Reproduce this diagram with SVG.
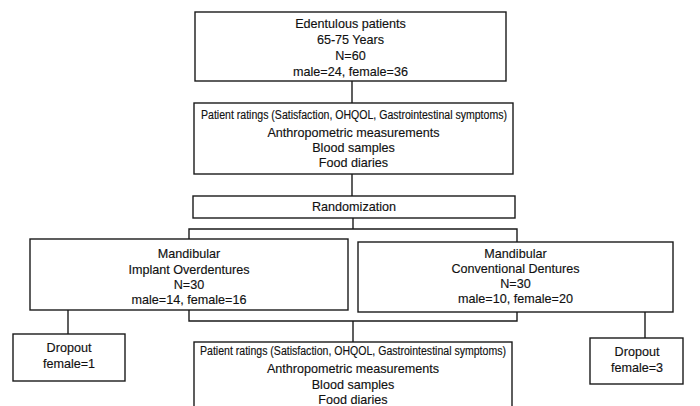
<svg xmlns="http://www.w3.org/2000/svg" width="700" height="406" viewBox="0 0 700 406">
<style>
rect{fill:#fff;stroke:#1a1a1a;stroke-width:1.4}
line,polyline{stroke:#1a1a1a;stroke-width:1.4;fill:none}
text{font-family:"Liberation Sans",Arial,sans-serif;font-size:12.6px;fill:#111;text-anchor:middle;stroke:#111;stroke-width:0.15}
.n{font-family:"Liberation Sans Narrow","Liberation Sans",sans-serif;font-size:12px}
</style>
<rect x="0" y="0" width="700" height="406" style="fill:#fff;stroke:none"/>
<g id="connectors">
<line x1="352" y1="81" x2="352" y2="103"/>
<line x1="352" y1="174" x2="352" y2="196"/>
<line x1="353" y1="218" x2="353" y2="229"/>
<polyline points="189,239 189,229 517,229 517,242"/>
<polyline points="189,310 189,321 517,321 517,312"/>
<line x1="353" y1="321" x2="353" y2="342"/>
<line x1="68" y1="310" x2="68" y2="334"/>
<line x1="645" y1="312" x2="645" y2="338"/>
</g>
<g id="n1">
<rect x="195" y="12" width="311" height="69"/>
<text x="350.5" y="28">Edentulous patients</text>
<text x="350.5" y="44">65-75 Years</text>
<text x="350.5" y="60">N=60</text>
<text x="350.5" y="76">male=24, female=36</text>
</g>
<g id="n2">
<rect x="194" y="103" width="319" height="71"/>
<text class="n" x="354" y="119" textLength="306" lengthAdjust="spacingAndGlyphs">Patient ratings (Satisfaction, OHQOL, Gastrointestinal symptoms)</text>
<text x="353.5" y="137">Anthropometric measurements</text>
<text x="353.5" y="152">Blood samples</text>
<text x="353.5" y="167">Food diaries</text>
</g>
<g id="n3">
<rect x="193" y="196" width="322" height="22"/>
<text x="354" y="211">Randomization</text>
</g>
<g id="n4">
<rect x="30" y="239" width="318" height="71"/>
<text x="189" y="258">Mandibular</text>
<text x="189" y="274">Implant Overdentures</text>
<text x="189" y="289">N=30</text>
<text x="189" y="304">male=14, female=16</text>
</g>
<g id="n5">
<rect x="358" y="242" width="315" height="70"/>
<text x="515.5" y="258">Mandibular</text>
<text x="515.5" y="273">Conventional Dentures</text>
<text x="515.5" y="288">N=30</text>
<text x="515.5" y="303">male=10, female=20</text>
</g>
<g id="n6">
<rect x="13" y="334" width="112" height="47"/>
<text x="69" y="352">Dropout</text>
<text x="69" y="368">female=1</text>
</g>
<g id="n7">
<rect x="590" y="338" width="93" height="46"/>
<text x="637" y="356">Dropout</text>
<text x="637" y="372">female=3</text>
</g>
<g id="n8">
<rect x="194" y="342" width="318" height="72"/>
<text class="n" x="353" y="355" textLength="306" lengthAdjust="spacingAndGlyphs">Patient ratings (Satisfaction, OHQOL, Gastrointestinal symptoms)</text>
<text x="353" y="373">Anthropometric measurements</text>
<text x="353" y="389">Blood samples</text>
<text x="353" y="404">Food diaries</text>
</g>
</svg>
